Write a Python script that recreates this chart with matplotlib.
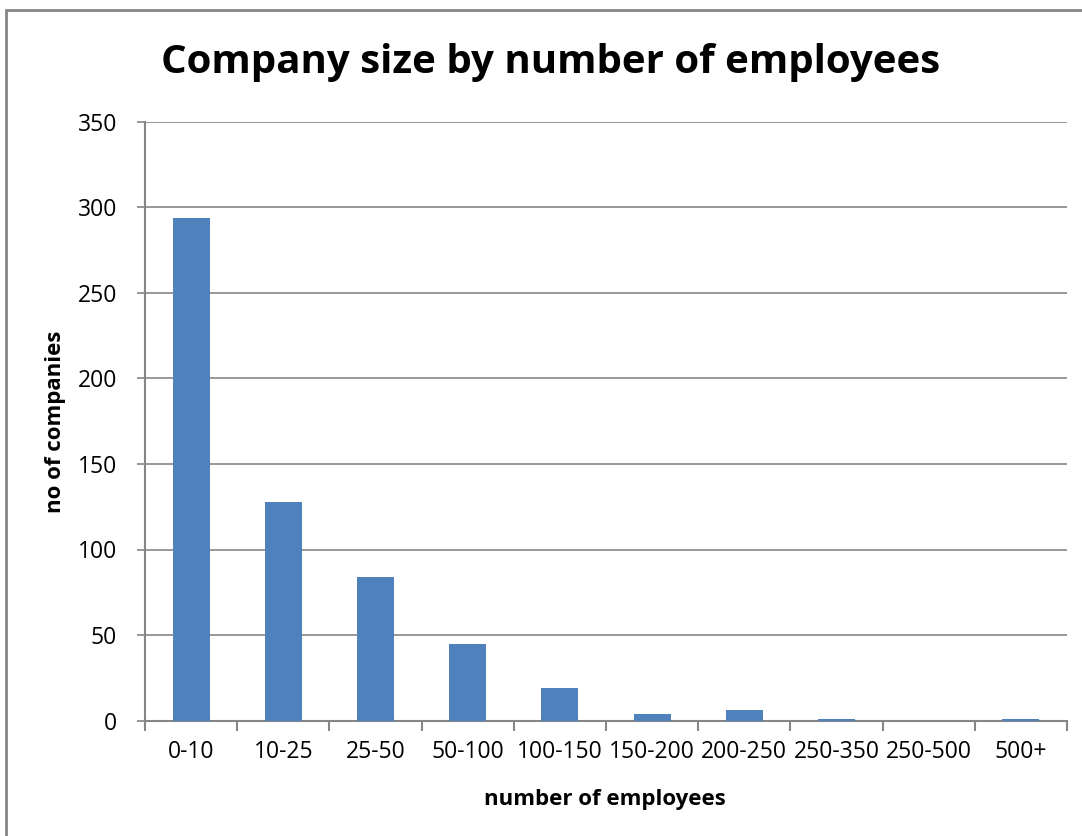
import matplotlib
matplotlib.use("Agg")
import matplotlib.pyplot as plt
from matplotlib.patches import Rectangle
import numpy as np

categories = ["0-10", "10-25", "25-50", "50-100", "100-150", "150-200",
              "200-250", "250-350", "250-500", "500+"]
counts = [294, 128, 84, 45, 19, 4, 6, 1, 0, 1]
y_ticks = [0, 50, 100, 150, 200, 250, 300, 350]

plt.rcParams['font.family'] = ['Open Sans', 'DejaVu Sans']

W, H = 1082, 836
fig = plt.figure(figsize=(W / 100, H / 100), dpi=100)

def px(x0, y0, x1, y1):
    return [x0 / W, 1 - y1 / H, (x1 - x0) / W, (y1 - y0) / H]

ax = fig.add_axes(px(145, 122, 1067, 720.5))

grid_col = "#868686"
x = np.arange(len(categories))
ax.bar(x, counts, width=0.4, color="#4F81BD", zorder=3)

ax.set_xlim(-0.5, len(categories) - 0.5)
ax.set_ylim(0, 350)
ax.set_yticks(y_ticks)
ax.set_yticklabels([str(v) for v in y_ticks], fontsize=16.5)
ax.yaxis.grid(True, color=grid_col, linewidth=1.2, zorder=0)

ax.set_xticks(x)
ax.set_xticklabels(categories, fontsize=16.5)
ax.set_xticks(np.arange(len(categories) + 1) - 0.5, minor=True)
ax.tick_params(axis="x", which="major", length=0, pad=14)
ax.tick_params(axis="x", which="minor", length=7, width=1.5, color=grid_col, direction="out")
ax.tick_params(axis="y", length=6, width=1.2, color=grid_col, pad=14)

for s in ["top", "right"]:
    ax.spines[s].set_visible(False)
for s in ["left", "bottom"]:
    ax.spines[s].set_color(grid_col)
    ax.spines[s].set_linewidth(1.5)

ax.set_xlabel("number of employees", fontsize=16, fontweight="bold")
ax.xaxis.set_label_coords((605 - 145) / (1067 - 145), -(800 - 720.5) / (720.5 - 122))
ax.set_ylabel("no of companies", fontsize=16, fontweight="bold")
ax.yaxis.set_label_coords(-(145 - 56) / (1067 - 145), (720.5 - 422) / (720.5 - 122))
ax.xaxis.label.set_va("center")
ax.yaxis.label.set_va("center")

fig.text(551 / W, 1 - 63 / H, "Company size by number of employees",
         ha="center", va="center", fontsize=29, fontweight="bold")

fig.add_artist(Rectangle((6 / W, -0.1), 1.2, 1 - 10 / H + 0.1,
                         transform=fig.transFigure, fill=False,
                         edgecolor=grid_col, linewidth=2))

fig.savefig("out.png", dpi=100)
